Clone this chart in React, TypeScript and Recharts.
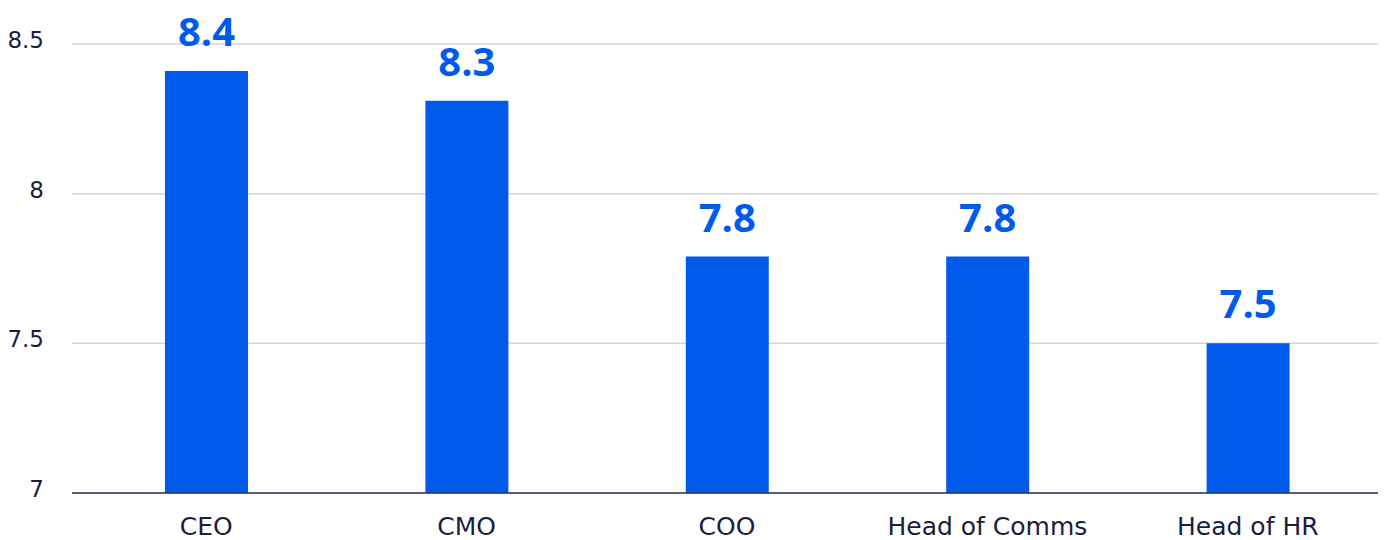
import { BarChart, Bar, XAxis, YAxis, CartesianGrid, LabelList } from "recharts";

const ROLES = ["CEO", "CMO", "COO", "Head of Comms", "Head of HR"];
const SCORES = [8.41, 8.31, 7.79, 7.79, 7.5];
const Y_TICKS = [7, 7.5, 8, 8.5];

const BLUE = "#005beb";
const INK = "#1b1d3d";
const TICK_FONT = "'DejaVu Sans', sans-serif";
const LABEL_FONT = "'Open Sans', sans-serif";

const data = ROLES.map((role, i) => ({ role, score: SCORES[i] }));

export default function App() {
  return (
    <div style={{ position: "fixed", top: 0, left: 0, background: "#fff" }}>
      <BarChart
        width={1386}
        height={540}
        data={data}
        margin={{ top: 44, right: 8, bottom: 0, left: 0 }}
        barCategoryGap={0}
      >
        <CartesianGrid vertical={false} stroke="#d4d4e2" strokeWidth={1.5} />
        <XAxis
          dataKey="role"
          height={47}
          padding={{ left: 4, right: 0 }}
          tickLine={false}
          tickSize={0}
          tickMargin={24}
          axisLine={{ stroke: "#2d3156", strokeWidth: 1.5 }}
          tick={{ fill: INK, fontSize: 25, fontFamily: TICK_FONT }}
        />
        <YAxis
          width={72}
          domain={[7, 8.5]}
          ticks={Y_TICKS}
          axisLine={false}
          tickLine={false}
          tickSize={0}
          tickMargin={28}
          tick={{ fill: INK, fontSize: 23, fontFamily: TICK_FONT, dy: -4 }}
        />
        <Bar dataKey="score" fill={BLUE} barSize={83} isAnimationActive={false}>
          <LabelList
            dataKey="score"
            position="top"
            offset={25}
            formatter={(v: number) => v.toFixed(1)}
            style={{ fill: BLUE, fontSize: 40, fontWeight: 700, fontFamily: LABEL_FONT }}
          />
        </Bar>
      </BarChart>
    </div>
  );
}
